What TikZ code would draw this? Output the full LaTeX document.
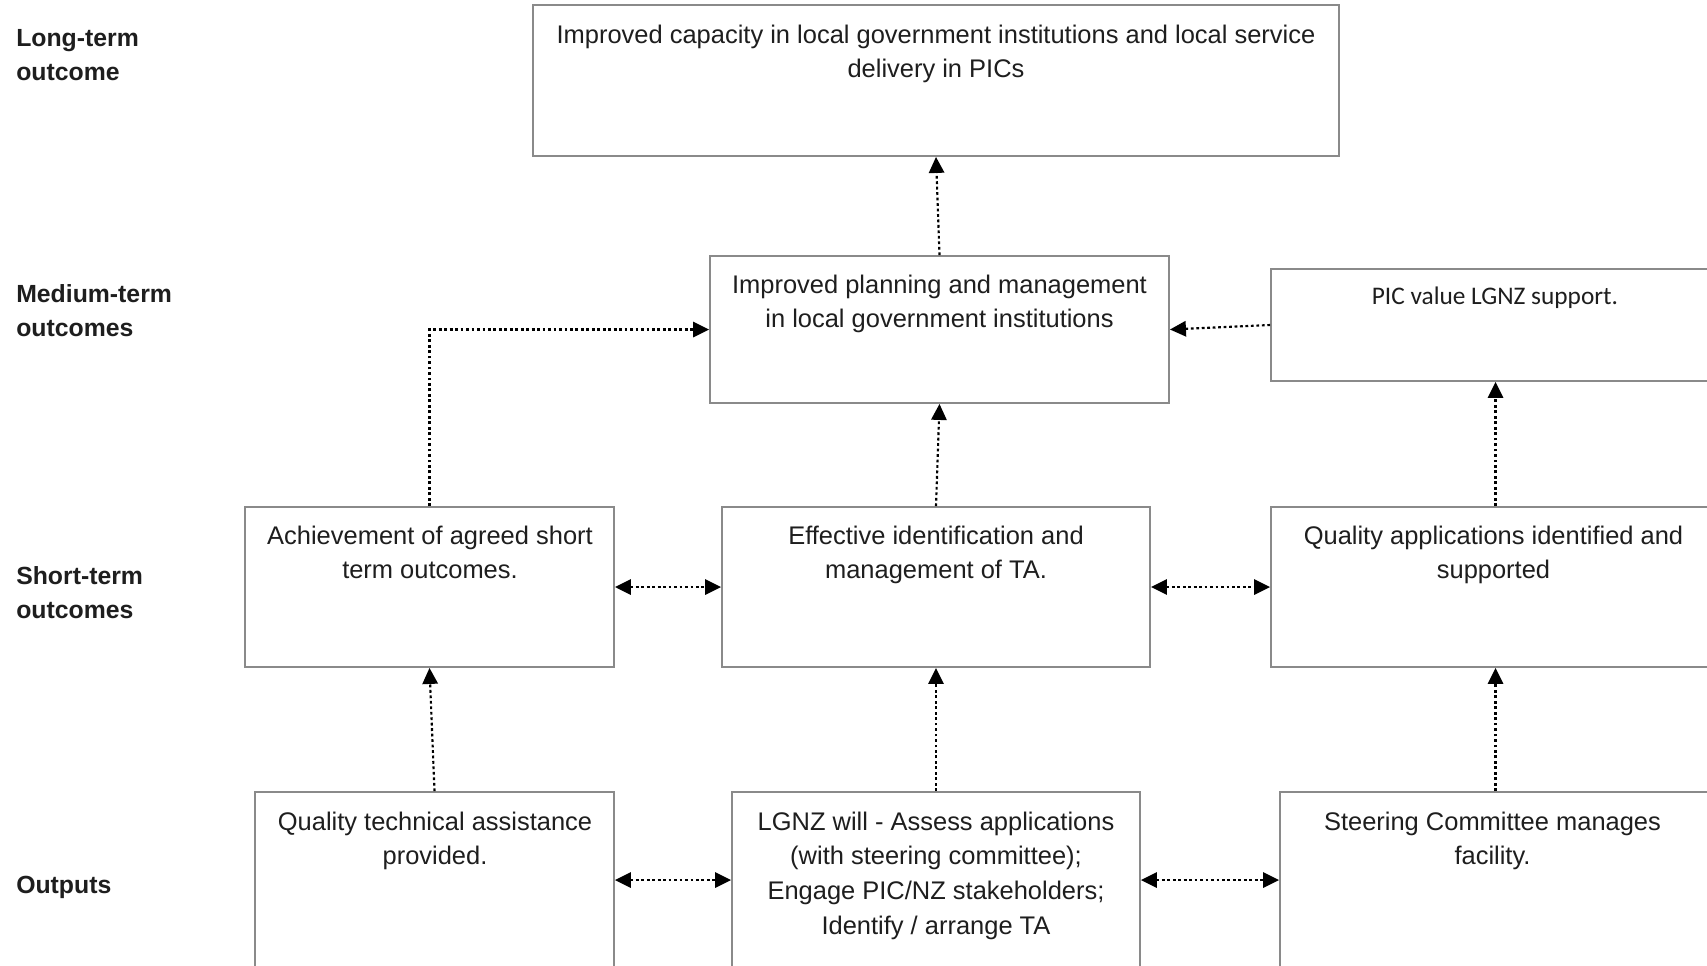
\documentclass[tikz,border=0pt]{standalone}
\usepackage{fontspec}
\setmainfont{Liberation Sans}
\newfontfamily\calfont{Carlito}
\usetikzlibrary{arrows.meta,fit}
\definecolor{boxgray}{RGB}{138,138,138}
\definecolor{txtcol}{RGB}{30,30,30}
\newcommand{\fls}{\rule{0pt}{15pt}}
\tikzset{
  box/.style={draw=boxgray, line width=1.4pt, inner sep=0pt, fill=white},
  boxtext/.style={anchor=north, align=center, inner sep=0pt, text=txtcol,
    font=\fontsize{19.1pt}{26pt}\selectfont},
  pictext/.style={anchor=north, align=center, inner sep=0pt, text=txtcol,
    font=\calfont\fontsize{19pt}{26pt}\selectfont},
  rowlabel/.style={anchor=north west, align=left, inner sep=0pt, text=txtcol,
    font=\bfseries\fontsize{18.6pt}{25.5pt}\selectfont},
  conn/.style={draw=black, line width=1.6pt, dash pattern=on 2.1pt off 2pt,
    -{Triangle[length=12pt,width=11.5pt]}},
  conntwo/.style={draw=black, line width=1.6pt, dash pattern=on 2.1pt off 2pt,
    {Triangle[length=12pt,width=11.5pt]}-{Triangle[length=12pt,width=11.5pt]}}
}
\begin{document}
\begin{tikzpicture}[x=0.75pt,y=-0.75pt]
\clip (0,0) rectangle (1707,965);
\fill[white] (0,0) rectangle (1707,965);

% row labels
\node[rowlabel] (lLT) at (16,26.7) {\fls Long-term\\outcome};
\node[rowlabel] (lMT) at (16,282.5) {\fls Medium-term\\outcomes};
\node[rowlabel] (lST) at (16,564.5) {\fls Short-term\\outcomes};
\node[rowlabel] (lOP) at (16,873.7) {\fls Outputs};

% boxes
\node[box, fit={(533,5) (1339,156)}] (lt) {};
\node[box, fit={(710,256) (1169,403)}] (med) {};
\node[box, fit={(1271,269) (1720,381)}] (pic) {};
\node[box, fit={(245,507) (614,667)}] (s1) {};
\node[box, fit={(722,507) (1150,667)}] (s2) {};
\node[box, fit={(1271,507) (1720,667)}] (s3) {};
\node[box, fit={(255,792) (614,968)}] (o1) {};
\node[box, fit={(732,792) (1140,968)}] (o2) {};
\node[box, fit={(1280,792) (1712,968)}] (o3) {};

% box texts
\node[boxtext] (tlt) at (936,23) {\fls Improved capacity in local government institutions and local service\\delivery in PICs};
\node[boxtext] (tmed) at (939.5,273) {\fls Improved planning and management\\in local government institutions};
\node[pictext] (tpic) at (1495,284) {\fls PIC value LGNZ support.};
\node[boxtext] (ts1) at (430,524) {\fls Achievement of agreed short\\term outcomes.};
\node[boxtext] (ts2) at (936,524) {\fls Effective identification and\\management of TA.};
\node[boxtext] (ts3) at (1493.5,524) {\fls Quality applications identified and\\supported};
\node[boxtext] (to1) at (435,810) {\fls Quality technical assistance\\provided.};
\node[boxtext] (to2) at (936,810) {\fls LGNZ will - Assess applications\\(with steering committee);\\Engage PIC/NZ stakeholders;\\Identify / arrange TA};
\node[boxtext] (to3) at (1492.5,810) {\fls Steering Committee manages\\facility.};

% connectors
\draw[conn] (med.north) -- (lt.south);
\draw[conn] (s2.north) -- (med.south);
\draw[conn] (s1.north) |- (med.west);
\draw[conn] (pic.west) -- (med.east);
\draw[conn] (s3.north) -- (pic.south);
\draw[conn] (o1.north) -- (s1.south);
\draw[conn] (o2.north) -- (s2.south);
\draw[conn] (o3.north -| s3.south) -- (s3.south);
\draw[conntwo] (s1.east) -- (s2.west);
\draw[conntwo] (s2.east) -- (s3.west);
\draw[conntwo] (o1.east) -- (o2.west);
\draw[conntwo] (o2.east) -- (o3.west);
\end{tikzpicture}
\end{document}
